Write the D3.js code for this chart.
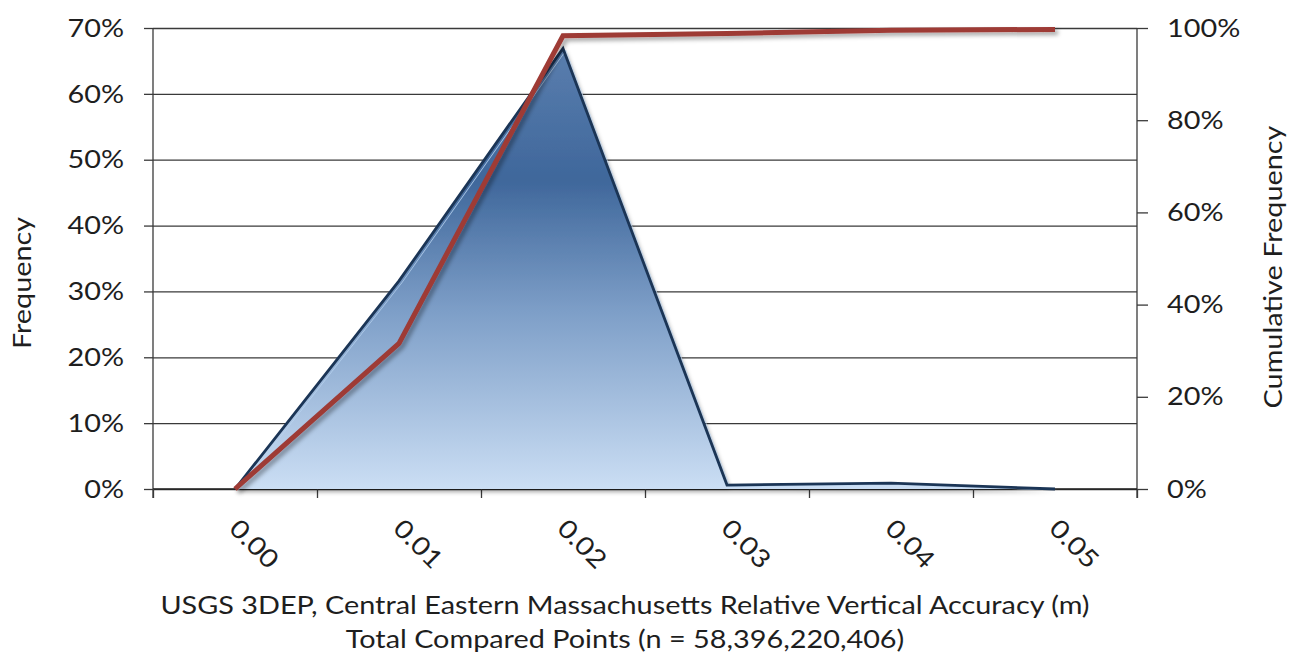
<!DOCTYPE html>
<html><head><meta charset="utf-8">
<script src="https://cdn.jsdelivr.net/npm/d3@7/dist/d3.min.js"></script>
<style>
html,body{margin:0;padding:0;background:#fff;}
svg text{font-family:Lato,"Open Sans",sans-serif;fill:#1e1e1e;}
</style></head>
<body>
<svg id="chart" width="1305" height="656"></svg>
<script>
// ---- data ----
const categories = ["0.00", "0.01", "0.02", "0.03", "0.04", "0.05"];
const frequency = [0.0, 0.316, 0.669, 0.006, 0.009, 0.0];
const cumulative = [0.0, 0.316, 0.983, 0.988, 0.995, 0.997];
const leftTicks = [0, 0.1, 0.2, 0.3, 0.4, 0.5, 0.6, 0.7];
const rightTicks = [0, 0.2, 0.4, 0.6, 0.8, 1.0];
const xTitle = "USGS 3DEP, Central Eastern Massachusetts Relative Vertical Accuracy (m)";
const xSubTitle = "Total Compared Points (n = 58,396,220,406)";
const yLeftTitle = "Frequency";
const yRightTitle = "Cumulative Frequency";

// ---- layout ----
const svg = d3.select("#chart");
const L = 153, R = 1137, T = 28, B = 489;
const W = R - L;
const FS = 25.5, STRETCH = 1.13;

const x = d3.scaleBand().domain(categories).range([L, R]).paddingInner(0).paddingOuter(0);
const cx = c => x(c) + x.bandwidth() / 2;
const xEdge = d3.scaleLinear().domain([0, categories.length]).range([L, R]);
const yL = d3.scaleLinear().domain([0, 0.7]).range([B, T]);
const yR = d3.scaleLinear().domain([0, 1]).range([B, T]);

const defs = svg.append("defs");
const grad = defs.append("linearGradient").attr("id", "areaGrad")
  .attr("gradientUnits", "userSpaceOnUse").attr("x1", 0).attr("x2", 0)
  .attr("y1", yL(d3.max(frequency))).attr("y2", B);
grad.append("stop").attr("offset", 0).attr("stop-color", "#5a7eae");
grad.append("stop").attr("offset", 0.3).attr("stop-color", "#3f679b");
grad.append("stop").attr("offset", 0.6).attr("stop-color", "#7e9fc8");
grad.append("stop").attr("offset", 1).attr("stop-color", "#cbdef4");
const f = defs.append("filter").attr("id", "shadow").attr("x", "-10%").attr("y", "-10%").attr("width", "130%").attr("height", "130%");
f.append("feDropShadow").attr("dx", 3).attr("dy", 3).attr("stdDeviation", 2.2)
  .attr("flood-color", "#000").attr("flood-opacity", 0.35);

function stretchText(sel) {
  sel.each(function () {
    const len = this.getComputedTextLength();
    d3.select(this).attr("textLength", len * STRETCH).attr("lengthAdjust", "spacingAndGlyphs");
  });
}

// gridlines
const grid = svg.append("g").attr("transform", `translate(${L},0)`)
  .call(d3.axisLeft(yL).tickValues(leftTicks).tickSize(-W).tickFormat(""));
grid.select(".domain").remove();
grid.selectAll(".tick line").attr("stroke", "#3a3a3a").attr("stroke-width", 1.3);

// left axis
const ax = svg.append("g").attr("transform", `translate(${L},0)`)
  .call(d3.axisLeft(yL).tickValues(leftTicks).tickSize(9).tickPadding(20).tickFormat(d3.format(".0%")));
ax.select(".domain").attr("stroke", "#3a3a3a").attr("stroke-width", 1.3).attr("d", `M0,${B + 9}V${T}`);
ax.selectAll(".tick line").attr("stroke", "#3a3a3a").attr("stroke-width", 1.3);
ax.selectAll("text").attr("font-size", FS).attr("font-family", "Lato").attr("fill", "#1e1e1e").call(stretchText);

// right axis
const ar = svg.append("g").attr("transform", `translate(${R},0)`)
  .call(d3.axisRight(yR).tickValues(rightTicks).tickSize(11).tickPadding(19).tickFormat(d3.format(".0%")));
ar.select(".domain").attr("stroke", "#3a3a3a").attr("stroke-width", 1.3).attr("d", `M0,${B + 9}V${T}`);
ar.selectAll(".tick line").attr("stroke", "#3a3a3a").attr("stroke-width", 1.3);
ar.selectAll("text").attr("font-size", FS).attr("font-family", "Lato").attr("fill", "#1e1e1e").call(stretchText);

// x axis tick marks at band edges
const axe = svg.append("g").attr("transform", `translate(0,${B})`)
  .call(d3.axisBottom(xEdge).tickValues(d3.range(categories.length + 1)).tickSize(9).tickFormat(""));
axe.select(".domain").attr("stroke", "#222").attr("stroke-width", 1.6).attr("d", `M${L},0H${R}`);
axe.selectAll(".tick line").attr("stroke", "#3a3a3a").attr("stroke-width", 1.3);

// x labels
const axl = svg.append("g").attr("transform", `translate(0,${B})`)
  .call(d3.axisBottom(x).tickSize(0).tickPadding(0));
axl.select(".domain").remove();
axl.selectAll("text")
  .attr("font-size", FS).attr("font-family", "Lato").attr("fill", "#1e1e1e")
  .attr("text-anchor", "middle").attr("dy", null).attr("y", 0)
  .attr("dominant-baseline", "central")
  .attr("transform", "translate(20,54) rotate(45)")
  .call(stretchText);

// area (frequency)
const pts = categories.map((c, i) => [cx(c), frequency[i]]);
const area = d3.area().x(d => d[0]).y0(yL(0)).y1(d => yL(d[1]));
const lineF = d3.line().x(d => d[0]).y(d => yL(d[1]));
svg.append("path").datum(pts).attr("d", area).attr("fill", "url(#areaGrad)")
  .attr("filter", "url(#shadow)");
defs.append("clipPath").attr("id", "areaClip").append("path").datum(pts).attr("d", area);
svg.append("path").datum(pts).attr("d", lineF).attr("fill", "none")
  .attr("stroke", "#b9d3f0").attr("stroke-width", 1.6).attr("opacity", 0.85)
  .attr("transform", "translate(3,1)").attr("clip-path", "url(#areaClip)");
svg.append("path").datum(pts).attr("d", lineF).attr("fill", "none")
  .attr("stroke", "#1b3556").attr("stroke-width", 2.8).attr("stroke-linejoin", "miter");

// cumulative line
const cpts = categories.map((c, i) => [cx(c), cumulative[i]]);
svg.append("path").datum(cpts)
  .attr("d", d3.line().x(d => d[0]).y(d => yR(d[1])))
  .attr("fill", "none").attr("stroke", "#9e3a36").attr("stroke-width", 5)
  .attr("stroke-linejoin", "miter").attr("filter", "url(#shadow)");

// titles
svg.append("text").attr("x", (L + R) / 2 - 20).attr("y", 614).attr("text-anchor", "middle")
  .attr("font-size", FS).text(xTitle).call(stretchText);
svg.append("text").attr("x", (L + R) / 2 - 20).attr("y", 648).attr("text-anchor", "middle")
  .attr("font-size", FS).text(xSubTitle).call(stretchText);
svg.append("text").attr("transform", "translate(31,283) rotate(-90)").attr("text-anchor", "middle")
  .attr("font-size", FS).text(yLeftTitle).call(stretchText);
svg.append("text").attr("transform", "translate(1282,267) rotate(-90)").attr("text-anchor", "middle")
  .attr("font-size", FS).text(yRightTitle).call(stretchText);
</script>
</body></html>
